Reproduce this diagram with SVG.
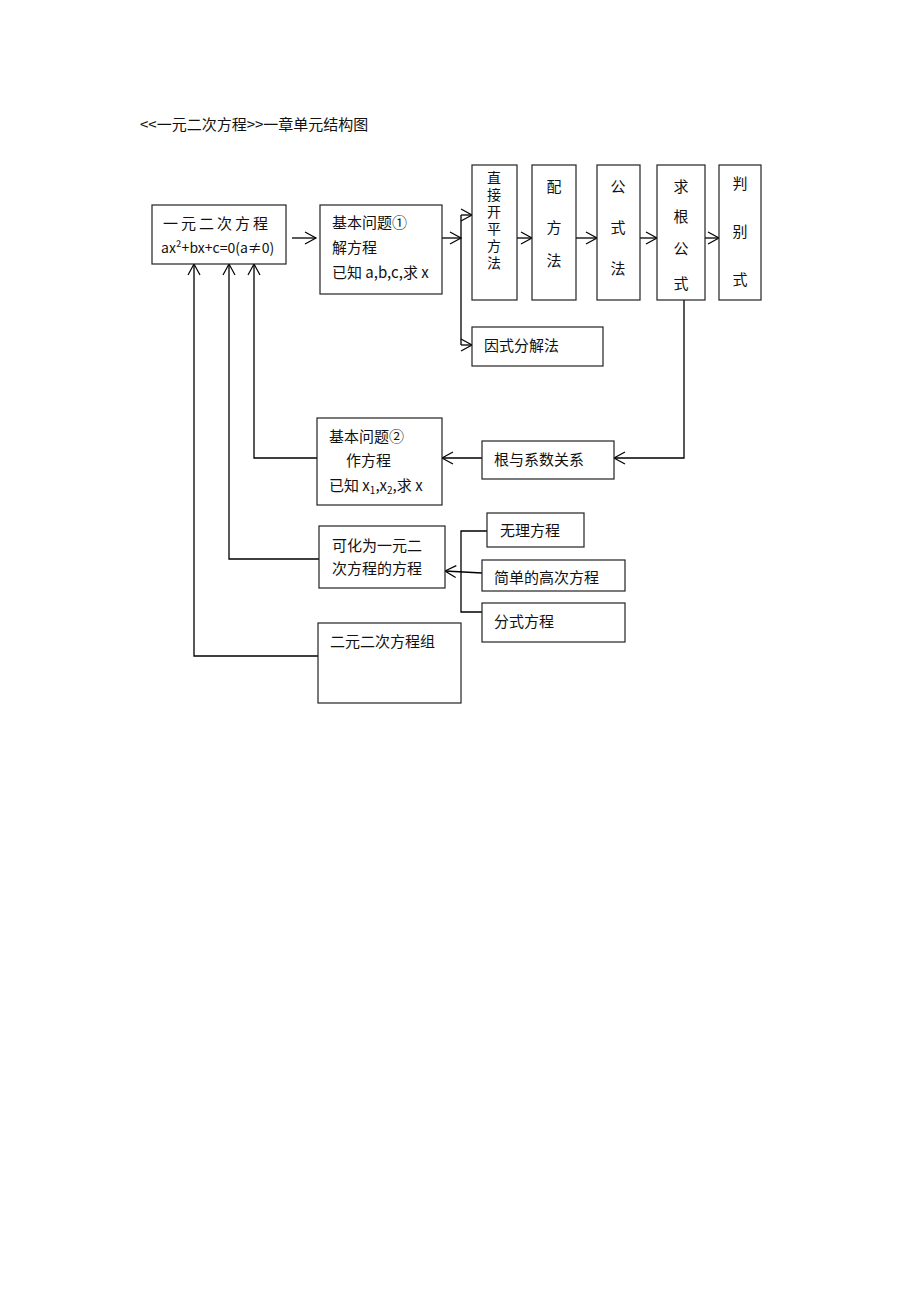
<svg xmlns="http://www.w3.org/2000/svg" width="920" height="1302" viewBox="0 0 920 1302">
<defs>
<marker id="a" markerWidth="14" markerHeight="14" refX="12" refY="7" orient="auto" markerUnits="userSpaceOnUse"><path d="M1,1 L12,7 L1,13" fill="none" stroke="#000" stroke-width="1.2"/></marker>
</defs>
<style>
rect{fill:#fff;stroke:#222;stroke-width:1.2}
text{font-family:"Noto Sans CJK SC","Liberation Sans",sans-serif;font-size:15px;fill:#111}
.c line,.c path{stroke:#000;stroke-width:1.3;fill:none}
.v{text-anchor:middle}
</style>
<rect x="0" y="0" width="920" height="1302" style="stroke:none"/>
<text x="140" y="130">&lt;&lt;一元二次方程&gt;&gt;一章单元结构图</text>
<g class="c">
<line x1="292" y1="238" x2="316" y2="238" marker-end="url(#a)"/>
<line x1="442" y1="238" x2="461" y2="238" marker-end="url(#a)"/>
<line x1="461" y1="215" x2="461" y2="345"/>
<line x1="461" y1="215" x2="472" y2="215" marker-end="url(#a)"/>
<line x1="461" y1="345" x2="472" y2="345" marker-end="url(#a)"/>
<line x1="517" y1="238" x2="532" y2="238" marker-end="url(#a)"/>
<line x1="576" y1="238" x2="597" y2="238" marker-end="url(#a)"/>
<line x1="640" y1="238" x2="657" y2="238" marker-end="url(#a)"/>
<line x1="705" y1="238" x2="719" y2="238" marker-end="url(#a)"/>
<path d="M684,300 V458 H614" marker-end="url(#a)"/>
<line x1="482" y1="458" x2="442" y2="458" marker-end="url(#a)"/>
<path d="M317,458 H254 V264" marker-end="url(#a)"/>
<path d="M319,559 H229 V264" marker-end="url(#a)"/>
<path d="M318,656 H194 V264" marker-end="url(#a)"/>
<path d="M487,531 H461 V612 H482"/>
<line x1="482" y1="573" x2="445" y2="571" marker-end="url(#a)"/>
</g>
<g id="n1"><rect x="152" y="205" width="134" height="59"/><text x="163" y="229" style="letter-spacing:3px">一元二次方程</text><text x="161" y="253" style="font-size:14px">ax²+bx+c=0(a≠0)</text></g>
<g id="n2"><rect x="320" y="205" width="122" height="89"/><text x="332" y="228">基本问题①</text><text x="332" y="253">解方程</text><text x="332" y="278">已知 a,b,c,求 x</text></g>
<g id="n3"><rect x="472" y="165" width="45" height="135"/><text x="494" y="171" style="font-size:14px;writing-mode:vertical-rl;letter-spacing:3px">直接开平方法</text></g>
<g id="n4"><rect x="532" y="165" width="44" height="135"/><text class="v" x="554" y="192">配</text><text class="v" x="554" y="233">方</text><text class="v" x="554" y="266">法</text></g>
<g id="n5"><rect x="597" y="165" width="43" height="135"/><text class="v" x="618" y="192">公</text><text class="v" x="618" y="233">式</text><text class="v" x="618" y="274">法</text></g>
<g id="n6"><rect x="657" y="165" width="48" height="135"/><text class="v" x="681" y="192">求</text><text class="v" x="681" y="222">根</text><text class="v" x="681" y="254">公</text><text class="v" x="681" y="289">式</text></g>
<g id="n7"><rect x="719" y="165" width="42" height="135"/><text class="v" x="740" y="189">判</text><text class="v" x="740" y="237">别</text><text class="v" x="740" y="285">式</text></g>
<g id="n8"><rect x="472" y="327" width="131" height="39"/><text x="484" y="351">因式分解法</text></g>
<g id="n9"><rect x="482" y="441" width="132" height="38"/><text x="494" y="465">根与系数关系</text></g>
<g id="n10"><rect x="317" y="418" width="125" height="87"/><text x="329" y="442">基本问题②</text><text x="346" y="466">作方程</text><text x="329" y="491">已知 x<tspan font-size="10" dy="3">1</tspan><tspan dy="-3">,x</tspan><tspan font-size="10" dy="3">2</tspan><tspan dy="-3">,求 x</tspan></text></g>
<g id="n11"><rect x="319" y="526" width="126" height="62"/><text x="332" y="551">可化为一元二</text><text x="332" y="574">次方程的方程</text></g>
<g id="n12"><rect x="487" y="513" width="97" height="34"/><text x="500" y="536">无理方程</text></g>
<g id="n13"><rect x="482" y="560" width="143" height="31"/><text x="494" y="583">简单的高次方程</text></g>
<g id="n14"><rect x="482" y="603" width="143" height="39"/><text x="494" y="627">分式方程</text></g>
<g id="n15"><rect x="318" y="623" width="143" height="80"/><text x="330" y="647">二元二次方程组</text></g>
</svg>
